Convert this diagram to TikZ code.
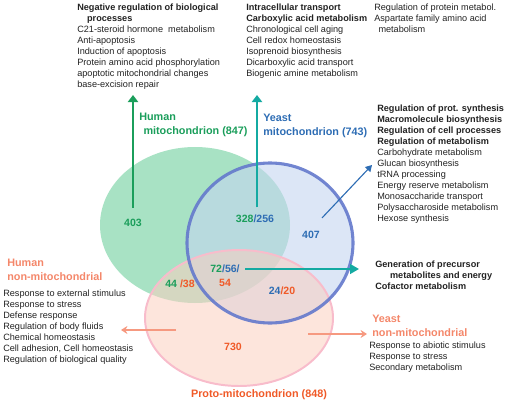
\documentclass[tikz,border=0pt]{standalone}
\usepackage{fontspec}
\setmainfont{Liberation Sans}
\usetikzlibrary{arrows.meta}
\definecolor{hgreen}{HTML}{1B9E5B}
\definecolor{yblue}{HTML}{2E6DB4}
\definecolor{pred}{HTML}{F05A28}
\definecolor{salm}{HTML}{F4876A}
\definecolor{tealC}{HTML}{14AAA2}
\definecolor{txtC}{HTML}{222222}
\definecolor{fillG}{HTML}{A8E2C4}
\definecolor{fillB}{HTML}{C4D6F0}
\definecolor{fillP}{HTML}{FBCFC0}
\definecolor{ringB}{HTML}{6479CC}
\definecolor{ringP}{HTML}{F8BCCB}
\tikzset{
  liste/.style={anchor=north west, align=left, inner sep=0pt, text=txtC,
                font=\fontsize{6.5}{7.8}\selectfont},
  grp/.style={anchor=north west, align=left, inner sep=0pt, text=#1,
              font=\fontsize{7.7}{9.9}\selectfont\bfseries},
  nb/.style={inner sep=1pt, text=#1, font=\fontsize{7.5}{9}\selectfont\bfseries},
  arr/.style={-{Triangle[length=1.8mm,width=2.6mm]}, line width=1.4pt, draw=#1},
  thinarr/.style={-{Triangle[length=1.6mm,width=1.8mm]}, line width=0.8pt, draw=#1},
}

\begin{document}
\begin{tikzpicture}[x=0.025cm, y=-0.025cm]
  \useasboundingbox (0,0) rectangle (519,400);
  % sets
  \fill[fillG] (195,225) ellipse [x radius=95, y radius=78];
  \fill[fillB, fill opacity=0.6] (270,243) ellipse [x radius=83, y radius=80];
  \fill[fillP, fill opacity=0.55] (239,318) ellipse [x radius=94, y radius=68];
  \draw[ringP, line width=1.4pt] (239,318) ellipse [x radius=94, y radius=68];
  \draw[ringB, line width=2.2pt, draw opacity=0.9] (270,243) ellipse [x radius=83, y radius=80];

  % counts
  \node[nb=hgreen] (n403) at (133,223) {403};
  \node[nb=hgreen] (n328) at (255,219) {328{\color{yblue}/256}};
  \node[nb=yblue] (n407) at (311,235) {407};
  \node[nb=hgreen] (n7256) at (225,269) {72{\color{yblue}/56/}};
  \node[nb=pred] (n54) at (225,283) {54};
  \node[nb=hgreen] (n44) at (180,284) {44 {\color{pred}/38}};
  \node[nb=yblue] (n24) at (282,291) {24{\color{pred}/20}};
  \node[nb=pred] (n730) at (233,347) {730};

  % group labels
  \node[grp=hgreen] (hmlab) at (139,113) {Human\\\hspace*{3pt}mitochondrion (847)};
  \node[grp=yblue] (ymlab) at (263,114) {Yeast\\mitochondrion (743)};
  \node[grp=salm] (hnlab) at (7,259) {Human\\non-mitochondrial};
  \node[grp=salm] (ynlab) at (372,315) {Yeast\\non-mitochondrial};
  \node[grp=pred, anchor=north] (pmlab) at (259,389) {Proto-mitochondrion (848)};

  % term lists
  \node[liste] (hmlist) at (77,3.5)
    {\textbf{Negative regulation of biological}\\
     \hspace*{7pt}\textbf{processes}\\
     C21-steroid hormone\ \ metabolism\\
     Anti-apoptosis\\
     Induction of apoptosis\\
     Protein amino acid phosphorylation\\
     apoptotic mitochondrial changes\\
     base-excision repair};
  \node[liste] (shlist) at (246,3.5)
    {\textbf{Intracellular transport}\\
     \textbf{Carboxylic acid metabolism}\\
     Chronological cell aging\\
     Cell redox homeostasis\\
     Isoprenoid biosynthesis\\
     Dicarboxylic acid transport\\
     Biogenic amine metabolism};
  \node[liste] (trlist) at (374,3.5)
    {Regulation of protein metabol.\\
     Aspartate family amino acid\\
     \hspace*{3pt}metabolism};
  \node[liste] (ymlist) at (377,104.7)
    {\textbf{Regulation of prot. synthesis}\\
     \textbf{Macromolecule biosynthesis}\\
     \textbf{Regulation of cell processes}\\
     \textbf{Regulation of metabolism}\\
     Carbohydrate metabolism\\
     Glucan biosynthesis\\
     tRNA processing\\
     Energy reserve metabolism\\
     Monosaccharide transport\\
     Polysaccharoside metabolism\\
     Hexose synthesis};
  \node[liste] (colist) at (375,260.7)
    {\textbf{Generation of precursor}\\
     \hspace*{10.5pt}\textbf{metabolites and energy}\\
     \textbf{Cofactor metabolism}};
  \node[liste] (hnlist) at (3,289.7)
    {Response to external stimulus\\
     Response to stress\\
     Defense response\\
     Regulation of body fluids\\
     Chemical homeostasis\\
     Cell adhesion, Cell homeostasis\\
     Regulation of biological quality};
  \node[liste] (ynlist) at (369,341.7)
    {Response to abiotic stimulus\\
     Response to stress\\
     Secondary metabolism};

  % arrows
  \coordinate (hTip) at (133,95);
  \coordinate (yTip) at (257,95);
  \coordinate (bTip) at (372,165);
  \coordinate (cTip) at (359,269);
  \coordinate (hnFrom) at (176,330);
  \coordinate (hnTip) at (121,330);
  \coordinate (ynFrom) at (308,334);
  \coordinate (ynTip) at (367,334);
  \draw[arr=hgreen, shorten <=2.5mm] (n403.north) -- (hTip);
  \draw[arr=tealC, shorten <=1.5mm] (yTip |- n328.north) -- (yTip);
  \draw[thinarr=yblue, shorten <=4mm] (n407.north) -- (bTip);
  \draw[arr=tealC, -{Triangle[length=2.2mm,width=2.4mm]}, shorten <=1mm] (n7256.east) -- (cTip);
  \draw[-{Stealth[length=1.6mm,width=2mm]}, line width=1pt, salm!85] (hnFrom) -- (hnTip);
  \draw[-{Stealth[length=1.6mm,width=2mm]}, line width=1pt, salm!85] (ynFrom) -- (ynTip);
\end{tikzpicture}
\end{document}
